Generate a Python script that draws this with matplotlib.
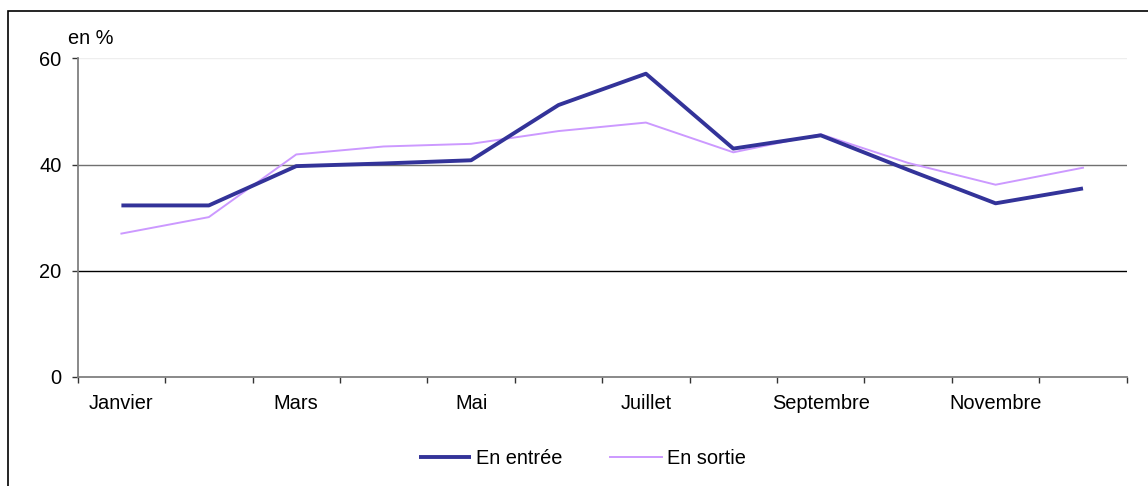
"""Taux mensuels en entrée et en sortie (en %)."""

import matplotlib

matplotlib.use("Agg")
import matplotlib.pyplot as plt
from matplotlib.patches import Rectangle

plt.rcParams["font.family"] = ["Liberation Sans", "DejaVu Sans"]

months = [
    "Janvier", "Février", "Mars", "Avril", "Mai", "Juin",
    "Juillet", "Août", "Septembre", "Octobre", "Novembre", "Décembre",
]
en_entree = [32.3, 32.3, 39.7, 40.2, 40.8, 51.2, 57.1, 43.0, 45.5, 39.0, 32.7, 35.5]
en_sortie = [27.0, 30.1, 41.9, 43.4, 43.9, 46.3, 47.9, 42.3, 45.7, 40.3, 36.2, 39.4]
y_ticks = [0, 20, 40, 60]

W, H = 1148, 486
fig = plt.figure(figsize=(W / 100, H / 100), dpi=100)
ax = fig.add_axes([77.7 / W, 1 - 377 / H, 1049 / W, (377 - 58.3) / H])

x = list(range(len(months)))
ax.plot(x, en_entree, color="#333399", linewidth=2.8, label="En entrée",
        solid_capstyle="butt", zorder=3)
ax.plot(x, en_sortie, color="#CC99FF", linewidth=1.4, label="En sortie", zorder=2)

ax.set_xlim(-0.5, len(months) - 0.5)
ax.set_ylim(0, 60)
ax.set_yticks(y_ticks)
ax.set_yticklabels([str(v) for v in y_ticks], fontsize=14.4)

ax.set_xticks(x[::2])
ax.set_xticklabels(months[::2], fontsize=14.4)
ax.set_xticks([i - 0.5 for i in range(len(months) + 1)], minor=True)
ax.tick_params(axis="x", which="major", length=0, pad=12.5)
ax.tick_params(axis="x", which="minor", length=4, width=1, color="#333333",
               direction="out")
ax.tick_params(axis="y", length=4, width=1, color="#333333", pad=7.5)

for side in ("top", "right"):
    ax.spines[side].set_visible(False)
for side in ("left", "bottom"):
    ax.spines[side].set_color("#808080")
    ax.spines[side].set_linewidth(1.3)

grid_colors = {20: "#000000", 40: "#707070", 60: "#eeeeee"}
for value, color in grid_colors.items():
    ax.axhline(value, color=color, linewidth=1.0, zorder=1)

fig.text(68 / W, 1 - 38 / H, "en %", fontsize=14.4, va="center", ha="left")

fig.legend(
    loc="center",
    bbox_to_anchor=(582.5 / W, 1 - 458 / H),
    ncol=2,
    frameon=False,
    fontsize=14.4,
    handlelength=2.6,
    handletextpad=0.25,
    columnspacing=2.35,
)

fig.patches.append(
    Rectangle((8 / W, -0.05), 1.1, 1.05 - 11 / H, transform=fig.transFigure,
              fill=False, edgecolor="black", linewidth=1.2)
)

fig.savefig("out.png", dpi=100)
